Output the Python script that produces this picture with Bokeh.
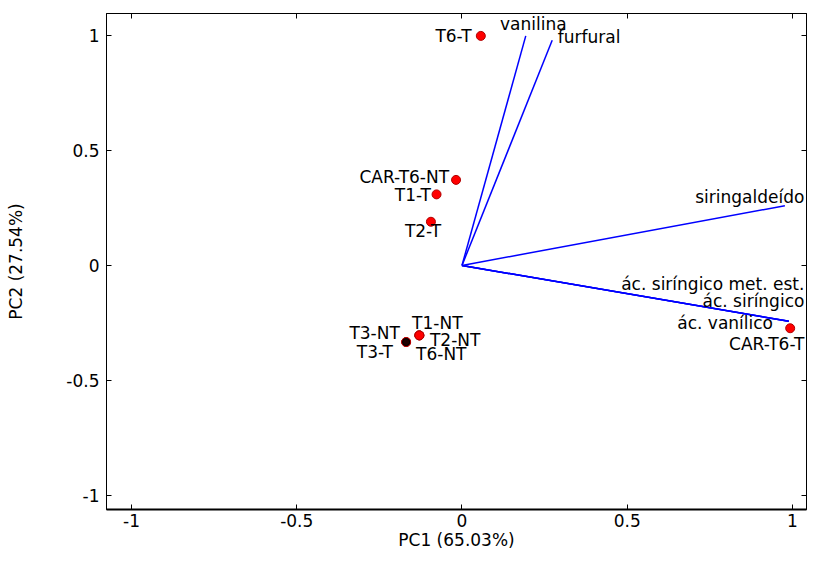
from bokeh.plotting import figure
from bokeh.models import Range1d, LinearAxis, FixedTicker, ColumnDataSource
from bokeh.embed import file_html
from bokeh.resources import INLINE
from bokeh.core.properties import value

# ---- data ----
obs_labels = ["T6-T", "CAR-T6-NT", "T1-T", "T2-T", "T1-NT", "T2-NT", "T6-NT", "T3-NT", "T3-T", "CAR-T6-T"]
obs_pc1 = [0.057, -0.018, -0.077, -0.094, -0.129, -0.129, -0.129, -0.169, -0.169, 0.993]
obs_pc2 = [0.998, 0.372, 0.309, 0.190, -0.304, -0.304, -0.304, -0.333, -0.333, -0.273]

var_labels = ["vanilina", "furfural", "siringaldeído", "ác. siríngico met. est.", "ác. siríngico", "ác. vanílico"]
var_pc1 = [0.193, 0.273, 0.977, 0.989, 0.989, 0.989]
var_pc2 = [0.998, 0.979, 0.260, -0.243, -0.243, -0.243]

tick_vals = [-1, -0.5, 0, 0.5, 1]
tick_text = {-1: "-1", -0.5: "-0.5", 0: "0", 0.5: "0.5", 1: "1"}
x_title = "PC1 (65.03%)"
y_title = "PC2 (27.54%)"

FONT = "DejaVu Sans"
FS = "17px"

p = figure(width=807, height=553, output_backend="svg", toolbar_location=None,
           x_range=Range1d(-1.0756, 1.0424), y_range=Range1d(-1.061, 1.0954),
           min_border_left=106, min_border_right=1, min_border_top=13, min_border_bottom=44)
p.grid.visible = False
p.outline_line_color = "black"
p.background_fill_color = "white"
p.border_fill_color = "white"

for ax in (p.xaxis[0], p.yaxis[0]):
    ax.ticker = FixedTicker(ticks=tick_vals)
    ax.major_label_overrides = tick_text
    ax.major_tick_in = 5
    ax.major_tick_out = 0
    ax.minor_tick_line_color = None
    ax.major_label_text_font = FONT
    ax.major_label_text_font_size = FS
    ax.major_label_text_color = "black"
    ax.axis_label_text_font = FONT
    ax.axis_label_text_font_size = FS
    ax.axis_label_text_font_style = "normal"
    ax.axis_label_text_color = "black"
    ax.axis_line_color = "black"
    ax.major_tick_line_color = "black"

p.xaxis[0].axis_label = x_title
p.yaxis[0].axis_label = y_title
p.xaxis[0].major_label_standoff = 4
p.xaxis[0].axis_label_standoff = 0
p.yaxis[0].major_label_standoff = 7
p.yaxis[0].axis_label_standoff = 37
p.xaxis[0].axis_line_width = 2

for loc in ("above", "right"):
    ax = LinearAxis(ticker=FixedTicker(ticks=tick_vals))
    ax.major_tick_in = 5
    ax.major_tick_out = 0
    ax.minor_tick_line_color = None
    ax.major_label_text_color = None
    ax.major_label_text_font_size = "0px"
    ax.major_label_standoff = 0
    ax.axis_line_color = "black"
    ax.major_tick_line_color = "black"
    p.add_layout(ax, loc)

# vectors
xs = [[0, x] for x in var_pc1]
ys = [[0, y] for y in var_pc2]
p.multi_line(xs, ys, line_color="#0000ff", line_width=1.5)

# observations
src = ColumnDataSource(dict(x=obs_pc1, y=obs_pc2, lab=obs_labels))
p.scatter("x", "y", source=src, size=9, fill_color="#ff0000", line_color="#b00000", line_width=1)
t3 = [i for i, l in enumerate(obs_labels) if l.startswith("T3")]
p.scatter([obs_pc1[i] for i in t3], [obs_pc2[i] for i in t3], size=7,
          fill_color="#200000", line_color="#000000", line_width=1)

# label placement (offsets in data units relative to the point)
def place(labels, xs_, ys_, specs):
    for lab, x, y in zip(labels, xs_, ys_):
        dx, dy, align = specs[lab]
        p.text([x + dx], [y + dy], text=[lab], text_align=align, text_baseline="middle",
               text_font=value(FONT), text_font_size=FS, text_color="black")

obs_specs = {
    "T6-T": (-0.028, 0.000, "right"),
    "CAR-T6-NT": (-0.021, 0.014, "right"),
    "T1-T": (-0.017, -0.002, "right"),
    "T2-T": (-0.024, -0.041, "center"),
    "T1-NT": (-0.022, 0.054, "left"),
    "T2-NT": (0.032, -0.018, "left"),
    "T6-NT": (-0.010, -0.079, "left"),
    "T3-NT": (-0.019, 0.041, "right"),
    "T3-T": (-0.040, -0.043, "right"),
    "CAR-T6-T": (0.043, -0.070, "right"),
}
var_specs = {
    "vanilina": (-0.078, 0.052, "left"),
    "furfural": (0.017, 0.014, "left"),
    "siringaldeído": (0.059, 0.039, "right"),
    "ác. siríngico met. est.": (0.047, 0.161, "right"),
    "ác. siríngico": (0.047, 0.088, "right"),
    "ác. vanílico": (-0.048, -0.009, "right"),
}
place(obs_labels, obs_pc1, obs_pc2, obs_specs)
place(var_labels, var_pc1, var_pc2, var_specs)

open("out.html", "w").write(file_html(p, INLINE))
